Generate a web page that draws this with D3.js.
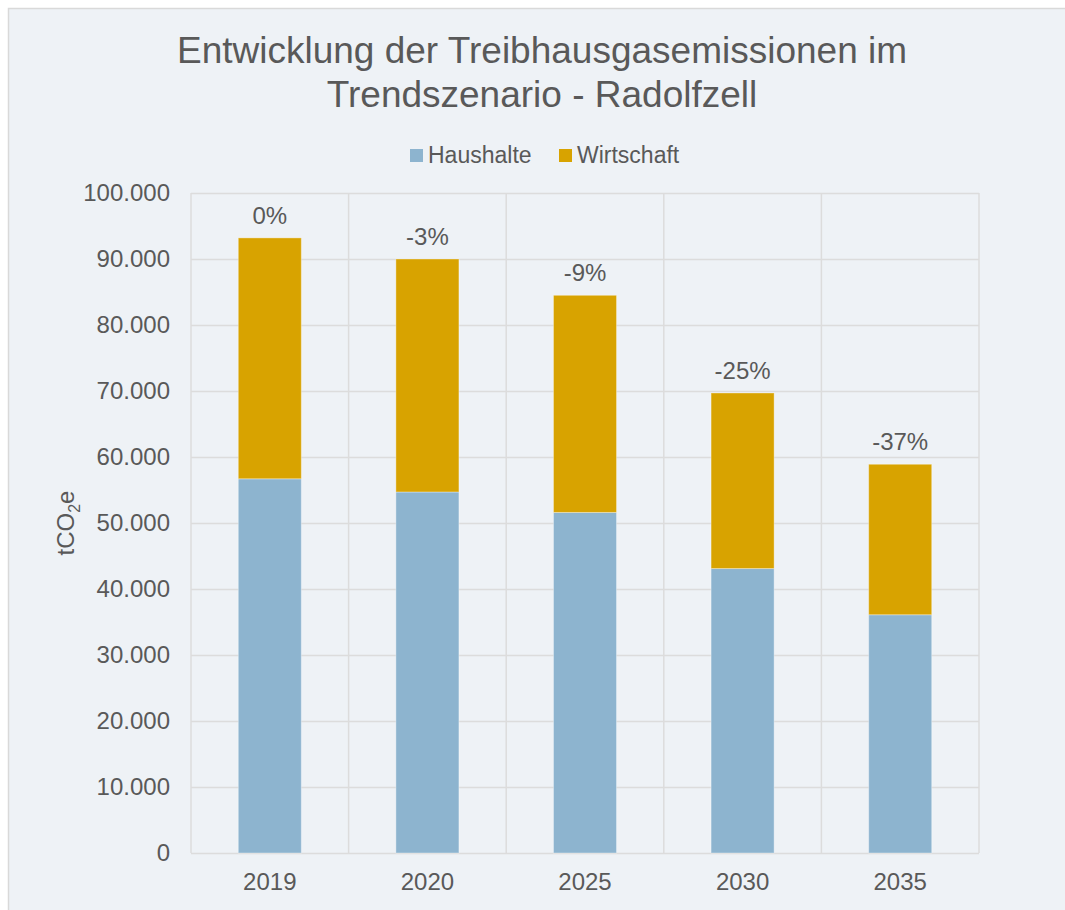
<!DOCTYPE html>
<html><head><meta charset="utf-8">
<script src="https://cdn.jsdelivr.net/npm/d3@7"></script>
<style>
html,body{margin:0;padding:0;background:#fff;}
text{font-family:"Liberation Sans",Arial,sans-serif;fill:#595959;}
</style></head>
<body>
<script>
const categories = ["2019","2020","2025","2030","2035"];
const haushalte = [56700, 54700, 51600, 43100, 36100];
const wirtschaft = [36500, 35300, 32900, 26600, 22800];
const percentLabels = ["0%","-3%","-9%","-25%","-37%"];
const seriesNames = ["Haushalte","Wirtschaft"];
const yTicks = [0,10000,20000,30000,40000,50000,60000,70000,80000,90000,100000];
const colors = ["#8db4cf","#d8a300"];

const W = 1065, H = 910;
const svg = d3.select("body").append("svg").attr("width", W).attr("height", H);

svg.append("rect").attr("x", 8.5).attr("y", 8.5).attr("width", 1200).attr("height", 1000)
  .attr("fill", "#eef2f6").attr("stroke", "#d9d9d9").attr("stroke-width", 1.5);

const plot = {left: 191, right: 979, top: 193, bottom: 853};
const x = d3.scaleBand().domain(categories).range([plot.left, plot.right]).paddingInner(0).paddingOuter(0);
const y = d3.scaleLinear().domain([0, 100000]).range([plot.bottom, plot.top]);

// gridlines
const g = svg.append("g");
g.selectAll(".hg").data(yTicks).join("line")
  .attr("x1", plot.left).attr("x2", plot.right)
  .attr("y1", d => Math.round(y(d)) + 0.5).attr("y2", d => Math.round(y(d)) + 0.5)
  .attr("stroke", "#dcdcdc").attr("stroke-width", 1.5);
const vlines = categories.map(c => x(c)).concat([plot.right]);
g.selectAll(".vg").data(vlines).join("line")
  .attr("x1", d => d).attr("x2", d => d)
  .attr("y1", plot.top).attr("y2", plot.bottom)
  .attr("stroke", "#dcdcdc").attr("stroke-width", 1.5);

// stacked bars
const data = categories.map((c, i) => ({cat: c, Haushalte: haushalte[i], Wirtschaft: wirtschaft[i]}));
const stack = d3.stack().keys(seriesNames)(data);
const barW = x.bandwidth() * 0.4;
svg.selectAll(".series").data(stack).join("g")
  .attr("fill", (d, i) => colors[i])
  .selectAll("rect").data(d => d).join("rect")
  .attr("x", d => x(d.data.cat) + (x.bandwidth() - barW) / 2)
  .attr("width", barW)
  .attr("y", d => y(d[1]))
  .attr("height", d => y(d[0]) - y(d[1]))
  .attr("stroke", "rgba(255,255,255,0.35)").attr("stroke-width", 1);

// percent labels
svg.selectAll(".pl").data(data).join("text")
  .attr("x", d => x(d.cat) + x.bandwidth() / 2)
  .attr("y", d => y(d.Haushalte + d.Wirtschaft) - 14)
  .attr("text-anchor", "middle").attr("font-size", 24)
  .text((d, i) => percentLabels[i]);

// y axis labels
const fmt = d => d3.format(",")(d).replace(/,/g, ".");
svg.selectAll(".yl").data(yTicks).join("text")
  .attr("x", 170).attr("y", d => y(d)).attr("dy", "0.35em")
  .attr("text-anchor", "end").attr("font-size", 24)
  .text(fmt);

// x axis labels
svg.selectAll(".xl").data(categories).join("text")
  .attr("x", d => x(d) + x.bandwidth() / 2).attr("y", 890)
  .attr("text-anchor", "middle").attr("font-size", 24)
  .text(d => d);

// y axis title
const yt = svg.append("text").attr("transform", "translate(74,523) rotate(-90)")
  .attr("text-anchor", "middle").attr("font-size", 24);
yt.append("tspan").text("tCO");
yt.append("tspan").attr("font-size", 16).attr("dy", 6).text("2");
yt.append("tspan").attr("dy", -6).text("e");

// title
const title = svg.append("text").attr("text-anchor", "middle").attr("font-size", 37);
title.append("tspan").attr("x", 542).attr("y", 63).text("Entwicklung der Treibhausgasemissionen im");
title.append("tspan").attr("x", 542).attr("y", 107).text("Trendszenario - Radolfzell");

// legend
const legX = [410, 559];
const leg = svg.selectAll(".leg").data(seriesNames).join("g")
  .attr("transform", (d, i) => `translate(${legX[i]},149)`);
leg.append("rect").attr("width", 13).attr("height", 13).attr("fill", (d, i) => colors[i]);
leg.append("text").attr("x", 18).attr("y", 13.5).attr("font-size", 23).text(d => d);
</script>
</body></html>
